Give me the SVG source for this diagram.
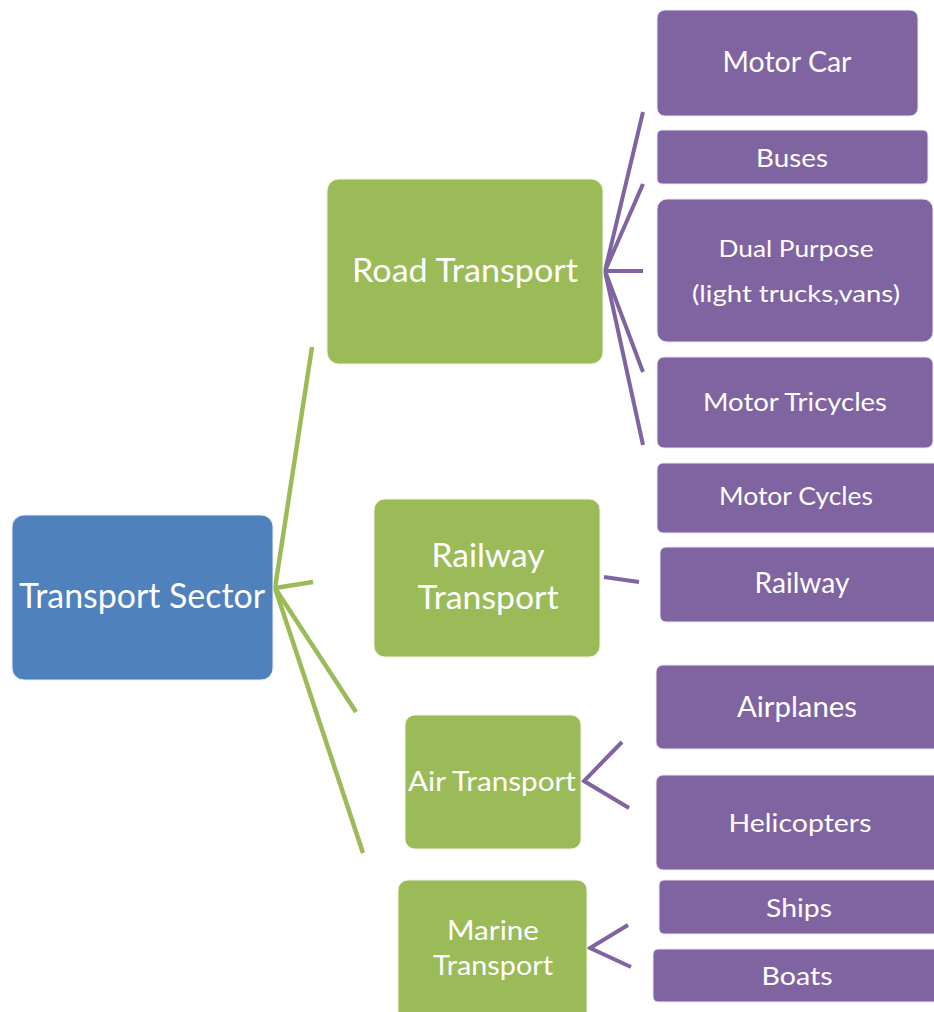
<svg xmlns="http://www.w3.org/2000/svg" width="934" height="1012" viewBox="0 0 934 1012">
<style>
.b{fill:#4F81BD;stroke:#e8eef7;stroke-width:1}
.g{fill:#9BBB59;stroke:#eef4e4;stroke-width:1}
.p{fill:#8064A2;stroke:#ece6f2;stroke-width:1}
text{font-family:Lato,"Open Sans","Liberation Sans",sans-serif;fill:#ffffff;text-anchor:middle}
.cg{stroke:#9BBB59;stroke-width:4.5;fill:none;stroke-linecap:butt}
.cp{stroke:#8064A2;stroke-width:4;fill:none;stroke-linecap:butt}
</style>
<rect width="934" height="1012" fill="#ffffff"/>
<g id="connectors">
<polyline class="cg" points="312,347 275,588 313,582"/>
<line class="cg" x1="275" y1="588" x2="356" y2="712"/>
<line class="cg" x1="275" y1="588" x2="363" y2="853"/>
<line class="cp" x1="605" y1="271" x2="643" y2="112"/>
<line class="cp" x1="605" y1="271" x2="643" y2="184"/>
<line class="cp" x1="605" y1="271" x2="643" y2="271"/>
<line class="cp" x1="605" y1="271" x2="643" y2="372"/>
<line class="cp" x1="605" y1="271" x2="643" y2="445"/>
<line class="cp" x1="604" y1="577" x2="639" y2="582"/>
<polyline class="cp" points="622,742 584,781 629,808"/>
<polyline class="cp" points="628,925 590,948 631,967"/>
</g>
<g id="transport-sector"><rect class="b" x="12" y="515" width="261" height="165" rx="12"/><text x="142" y="608" font-size="34" textLength="246" lengthAdjust="spacingAndGlyphs">Transport Sector</text></g>
<g id="road-transport"><rect class="g" x="327" y="179" width="276" height="185" rx="12"/><text x="465" y="282" font-size="32" textLength="226" lengthAdjust="spacingAndGlyphs">Road Transport</text></g>
<g id="railway-transport"><rect class="g" x="374" y="499" width="226" height="158" rx="11"/><text x="488" y="567" font-size="32" textLength="113" lengthAdjust="spacingAndGlyphs">Railway</text><text x="488" y="609" font-size="32" textLength="141" lengthAdjust="spacingAndGlyphs">Transport</text></g>
<g id="air-transport"><rect class="g" x="405" y="715" width="176" height="134" rx="10"/><text x="492" y="791" font-size="26" textLength="168" lengthAdjust="spacingAndGlyphs">Air Transport</text></g>
<g id="marine-transport"><rect class="g" x="398" y="880" width="189" height="150" rx="10"/><text x="493" y="940" font-size="26" textLength="92" lengthAdjust="spacingAndGlyphs">Marine</text><text x="493" y="975" font-size="26" textLength="120" lengthAdjust="spacingAndGlyphs">Transport</text></g>
<g id="motor-car"><rect class="p" x="657" y="10" width="261" height="106" rx="8"/><text x="787" y="72" font-size="28" textLength="129" lengthAdjust="spacingAndGlyphs">Motor Car</text></g>
<g id="buses"><rect class="p" x="657" y="130" width="271" height="54" rx="5"/><text x="792" y="167" font-size="25" textLength="72" lengthAdjust="spacingAndGlyphs">Buses</text></g>
<g id="dual-purpose"><rect class="p" x="657" y="199" width="276" height="143" rx="10"/><text x="796" y="257" font-size="24" textLength="155" lengthAdjust="spacingAndGlyphs">Dual Purpose</text><text x="796" y="302" font-size="24" textLength="208" lengthAdjust="spacingAndGlyphs">(light trucks,vans)</text></g>
<g id="motor-tricycles"><rect class="p" x="657" y="357" width="276" height="91" rx="7"/><text x="795" y="411" font-size="25" textLength="184" lengthAdjust="spacingAndGlyphs">Motor Tricycles</text></g>
<g id="motor-cycles"><rect class="p" x="657" y="463" width="290" height="70" rx="6"/><text x="796" y="505" font-size="25" textLength="154" lengthAdjust="spacingAndGlyphs">Motor Cycles</text></g>
<g id="railway"><rect class="p" x="660" y="547" width="290" height="75" rx="6"/><text x="802" y="593" font-size="28" textLength="95" lengthAdjust="spacingAndGlyphs">Railway</text></g>
<g id="airplanes"><rect class="p" x="656" y="665" width="290" height="84" rx="7"/><text x="797" y="717" font-size="28" textLength="120" lengthAdjust="spacingAndGlyphs">Airplanes</text></g>
<g id="helicopters"><rect class="p" x="656" y="775" width="290" height="95" rx="7"/><text x="800" y="832" font-size="25" textLength="143" lengthAdjust="spacingAndGlyphs">Helicopters</text></g>
<g id="ships"><rect class="p" x="659" y="880" width="290" height="54" rx="5"/><text x="799" y="917" font-size="25" textLength="66" lengthAdjust="spacingAndGlyphs">Ships</text></g>
<g id="boats"><rect class="p" x="653" y="949" width="290" height="53" rx="5"/><text x="797" y="985" font-size="25" textLength="71" lengthAdjust="spacingAndGlyphs">Boats</text></g>
</svg>
